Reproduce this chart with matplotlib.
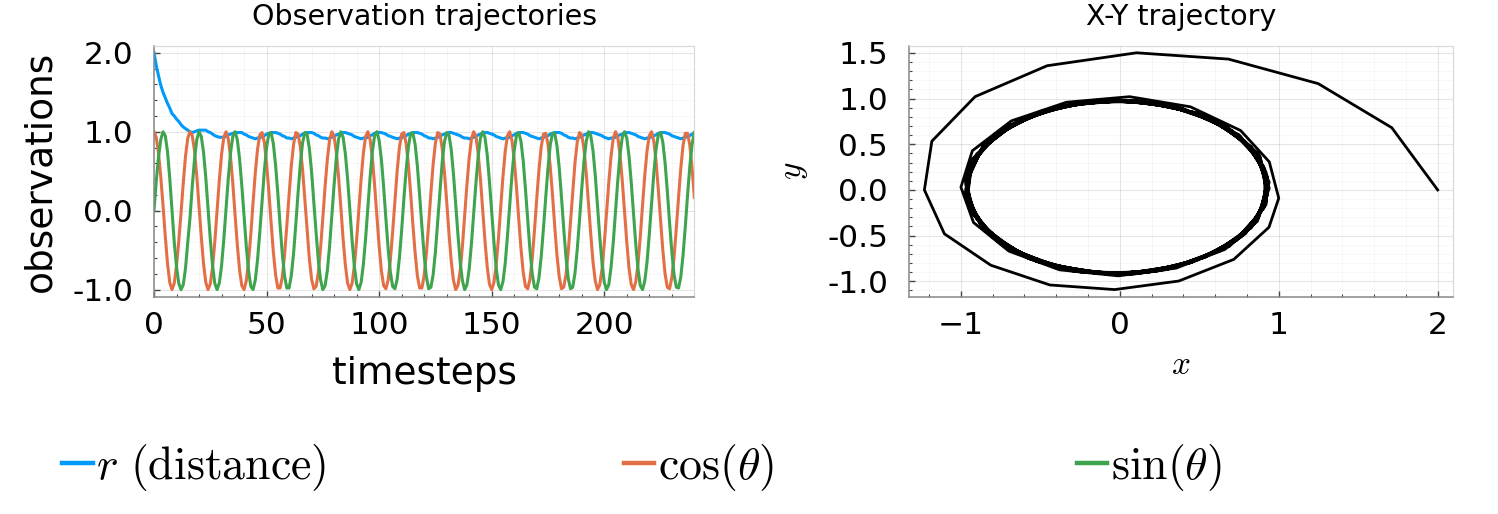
import numpy as np
import matplotlib.pyplot as plt
from matplotlib.ticker import MultipleLocator, FormatStrFormatter
from matplotlib.lines import Line2D

plt.rcParams['font.family'] = ['DejaVu Sans']
plt.rcParams['mathtext.fontset'] = 'cm'

# observations per timestep
timesteps = np.arange(241)
r_dist = [2.00, 1.84, 1.71, 1.59, 1.50, 1.43, 1.36, 1.30, 1.23, 1.20, 1.16, 1.13, 1.09, 1.06, 1.04, 1.02,
          1.00, .99, 1.00, 1.01, 1.02, 1.02, 1.02, 1.02, 1.00, .99, .97, .95, .94, .93, .93, .93,
          .94, .96, .97, .98, .99, .99, .99, .99, .97, .96, .94, .93, .92, .91, .92, .92,
          .94, .95, .97, .98, .99, .99, .99, .98, .97, .95, .94, .92, .92, .91, .92, .93,
          .94, .95, .97, .98, .99, .99, .99, .98, .96, .95, .93, .92, .92, .91, .92, .93,
          .94, .96, .97, .98, .99, .99, .98, .97, .96, .94, .93, .92, .91, .92, .92, .93,
          .95, .96, .98, .99, .99, .99, .98, .97, .95, .94, .93, .92, .91, .92, .92, .94,
          .95, .97, .98, .99, .99, .99, .98, .97, .95, .94, .92, .92, .91, .92, .93, .94,
          .96, .97, .98, .99, .99, .98, .97, .96, .95, .93, .92, .92, .91, .92, .93, .94,
          .96, .97, .98, .99, .99, .98, .97, .96, .94, .93, .92, .91, .92, .92, .93, .95,
          .96, .98, .99, .99, .99, .98, .97, .95, .94, .93, .92, .91, .92, .93, .94, .95,
          .97, .98, .99, .99, .99, .98, .96, .95, .93, .92, .92, .91, .92, .93, .94, .96,
          .97, .98, .99, .99, .98, .97, .96, .95, .93, .92, .91, .92, .92, .93, .95, .96,
          .97, .98, .99, .99, .98, .97, .96, .94, .93, .92, .91, .92, .92, .94, .95, .96,
          .98, .99, .99, .99, .98, .97, .95, .94, .93, .92, .91, .92, .93, .94, .95, .97,
          .98]
cos_theta = [1.00, .93, .73, .43, .07, -.32, -.67, -.91, -1.00, -.92, -.70, -.39, -.03, .35, .69, .92,
             1.00, .95, .76, .44, .06, -.33, -.67, -.91, -1.00, -.93, -.72, -.40, -.01, .38, .71, .93,
             1.00, .91, .68, .35, -.05, -.43, -.75, -.95, -1.00, -.89, -.64, -.30, .10, .48, .78, .96,
             .99, .87, .60, .25, -.15, -.52, -.81, -.98, -.98, -.84, -.56, -.19, .20, .57, .84, .99,
             .97, .81, .52, .14, -.25, -.61, -.87, -.99, -.96, -.78, -.47, -.09, .31, .65, .90, 1.00,
             .94, .74, .42, .04, -.36, -.69, -.92, -1.00, -.92, -.70, -.37, .02, .40, .73, .94, 1.00,
             .90, .67, .32, -.07, -.45, -.76, -.95, -.99, -.88, -.62, -.27, .12, .50, .80, .97, .99,
             .85, .58, .22, -.18, -.54, -.83, -.98, -.98, -.82, -.54, -.17, .23, .59, .86, .99, .97,
             .79, .49, .12, -.28, -.63, -.88, -1.00, -.95, -.76, -.45, -.06, .33, .67, .91, 1.00, .94,
             .72, .40, .01, -.38, -.71, -.93, -1.00, -.91, -.69, -.35, .04, .43, .75, .95, 1.00, .89,
             .65, .30, -.10, -.48, -.78, -.96, -.99, -.87, -.61, -.25, .15, .52, .81, .97, .98, .84,
             .56, .20, -.20, -.57, -.84, -.99, -.97, -.81, -.52, -.14, .25, .61, .87, .99, .96, .78,
             .47, .09, -.30, -.65, -.89, -1.00, -.94, -.74, -.42, -.04, .35, .69, .92, 1.00, .93, .71,
             .38, -.01, -.40, -.73, -.94, -1.00, -.90, -.67, -.33, .07, .45, .76, .95, 1.00, .88, .63,
             .27, -.12, -.50, -.80, -.97, -.99, -.85, -.59, -.22, .17, .54, .83, .98, .98, .83, .54,
             .17]
sin_theta = [.00, .37, .68, .90, 1.00, .95, .75, .41, .00, -.40, -.71, -.92, -1.00, -.94, -.73, -.40,
             -.09, .31, .65, .90, 1.00, .94, .74, .42, .03, -.36, -.69, -.92, -1.00, -.92, -.70, -.37,
             .02, .41, .73, .94, 1.00, .90, .66, .32, -.07, -.45, -.76, -.96, -1.00, -.88, -.62, -.27,
             .12, .50, .80, .97, .99, .85, .58, .22, -.18, -.55, -.83, -.98, -.98, -.82, -.54, -.17,
             .23, .59, .86, .99, .97, .79, .49, .11, -.28, -.63, -.88, -1.00, -.95, -.76, -.45, -.06,
             .33, .67, .91, 1.00, .93, .72, .40, .01, -.38, -.71, -.93, -1.00, -.91, -.68, -.35, .04,
             .43, .75, .95, 1.00, .89, .65, .30, -.10, -.48, -.78, -.96, -.99, -.87, -.60, -.25, .15,
             .52, .81, .98, .98, .84, .56, .19, -.20, -.57, -.84, -.99, -.97, -.81, -.52, -.14, .25,
             .61, .87, .99, .96, .78, .47, .09, -.30, -.65, -.89, -1.00, -.94, -.74, -.42, -.04, .35,
             .69, .92, 1.00, .93, .71, .37, -.02, -.40, -.73, -.94, -1.00, -.90, -.67, -.32, .07, .45,
             .76, .95, .99, .88, .63, .27, -.12, -.50, -.80, -.97, -.99, -.85, -.58, -.22, .17, .54,
             .83, .98, .98, .82, .54, .17, -.23, -.59, -.86, -.99, -.97, -.79, -.49, -.12, .28, .63,
             .88, 1.00, .95, .76, .45, .06, -.33, -.67, -.91, -1.00, -.94, -.72, -.40, -.01, .38, .71,
             .93, 1.00, .92, .69, .35, -.04, -.43, -.74, -.95, -1.00, -.89, -.65, -.30, .09, .47, .78,
             .96, .99, .87, .61, .25, -.15, -.52, -.81, -.97, -.98, -.84, -.56, -.20, .20, .56, .84,
             .99]

labels = [r'$r\ (\mathrm{distance})$', r'$\cos(\theta)$', r'$\sin(\theta)$']
colors = ['#009AFA', '#E36F47', '#3EA44E']

r_arr = np.array(r_dist)
x_pos = r_arr * np.array(cos_theta)
y_pos = r_arr * np.array(sin_theta)


def widen(v, f=0.03):
    lo, hi = np.min(v), np.max(v)
    d = (hi - lo) * f
    return lo - d, hi + d


def style(ax, ymaj, ymin, xmaj, xmin):
    ax.set_axisbelow(True)
    ax.xaxis.set_major_locator(MultipleLocator(xmaj))
    ax.xaxis.set_minor_locator(MultipleLocator(xmin))
    ax.yaxis.set_major_locator(MultipleLocator(ymaj))
    ax.yaxis.set_minor_locator(MultipleLocator(ymin))
    ax.yaxis.set_major_formatter(FormatStrFormatter('%.1f'))
    ax.grid(which='major', color='k', alpha=0.1, lw=0.8)
    ax.grid(which='minor', color='k', alpha=0.035, lw=0.6)
    ax.tick_params(which='both', direction='in', colors='#444444', labelcolor='k', labelsize=22.5)
    ax.tick_params(which='major', length=4.5, width=1.0)
    ax.tick_params(which='minor', length=2.5, width=0.8)
    ax.tick_params(axis='y', pad=15)
    ax.tick_params(axis='x', pad=10)
    for s in ['top', 'right']:
        ax.spines[s].set_color('#d8d8d8')
    for s in ['left', 'bottom']:
        ax.spines[s].set_color('#888888')
        ax.spines[s].set_linewidth(1.1)


fig = plt.figure(figsize=(14.98, 5.14), dpi=100)
ax1 = fig.add_axes([0.1028, 0.4228, 0.3607, 0.4883])
ax2 = fig.add_axes([0.6068, 0.4228, 0.3632, 0.4883])

series = [r_dist, cos_theta, sin_theta]
for vals, col in zip(series, colors):
    ax1.plot(timesteps, vals, color=col, lw=2.2)
ax1.set_xlim(0, 240)
ax1.set_ylim(widen(np.concatenate(series)))
style(ax1, 1.0, 0.2, 50, 10)
ax1.set_title('Observation trajectories', fontsize=20.5, pad=15)
ax1.set_xlabel('timesteps', fontsize=27, labelpad=12)
ax1.set_ylabel('observations', fontsize=27, labelpad=10)

ax2.plot(x_pos, y_pos, color='black', lw=2.0)
ax2.set_xlim(widen(x_pos))
ax2.set_ylim(widen(y_pos))
style(ax2, 0.5, 0.1, 1, 0.2)
ax2.xaxis.set_major_formatter(plt.ScalarFormatter())
ax2.set_title('X-Y trajectory', fontsize=20.5, pad=15)
ax2.set_xlabel('$x$', fontsize=24, labelpad=6)
ax2.set_ylabel('$y$', fontsize=24, labelpad=12)

legend_x = [0.0417, 0.4166, 0.719]
for lab, col, lx in zip(labels, colors, legend_x):
    fig.legend(handles=[Line2D([], [], color=col, lw=3.2)], labels=[lab], loc='center left',
               bbox_to_anchor=(lx, 0.09), frameon=False, fontsize=33,
               handlelength=0.66, handletextpad=0.08, borderpad=0, borderaxespad=0)

fig.savefig('out.png', dpi=100)
